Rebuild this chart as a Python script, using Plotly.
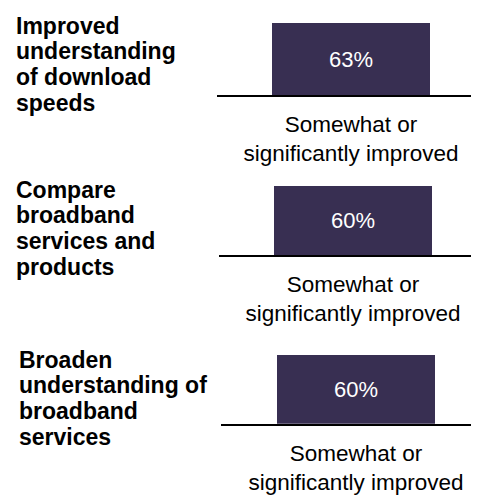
import plotly.graph_objects as go

# ---- data ----
statement_lines = [
    ["Improved", "understanding", "of download", "speeds"],
    ["Compare", "broadband", "services and", "products"],
    ["Broaden", "understanding of", "broadband", "services"],
]
categories = ["Somewhat or<br>significantly improved"]
values = [63, 60, 60]
value_labels = ["63%", "60%", "60%"]

# ---- layout constants (pixels, figure coordinates; page body adds an 8px margin) ----
W, H = 471, 487
BAR_COLOR = "#382F52"
FONT = "Liberation Sans, Arial, sans-serif"
panels = [  # axis-left x, baseline y, bar centre x, label left x, first label line centre y
    dict(left=209, base=88, cx=343, lx=6, ly=18),
    dict(left=211, base=250, cx=345, lx=6, ly=184),
    dict(left=213, base=421, cx=348, lx=9, ly=356),
]
Y_MAX = 70
PX_PER_UNIT = 1.15
BAR_PX = 158
LINE_H = 26

fig = go.Figure()
annotations = []
layout = {}
for i, (p, v, vl, lines) in enumerate(zip(panels, values, value_labels, statement_lines)):
    n = "" if i == 0 else str(i + 1)
    span_px = W - p["left"]
    frac = (p["cx"] - p["left"]) / span_px
    span = 0.5 / frac
    bw = BAR_PX / span_px * span
    top = p["base"] - Y_MAX * PX_PER_UNIT
    fig.add_trace(go.Bar(
        x=categories, y=[v], text=[vl], width=[bw],
        marker=dict(color=BAR_COLOR, line=dict(width=0)),
        textposition="inside", insidetextanchor="middle",
        textfont=dict(color="white", size=22, family=FONT),
        xaxis="x" + n, yaxis="y" + n, showlegend=False, hoverinfo="skip",
    ))
    layout["xaxis" + n] = dict(
        domain=[p["left"] / W, 1], anchor="y" + n, type="category",
        range=[-0.5, -0.5 + span], showline=True, linecolor="black", linewidth=1.5,
        ticks="", ticklabelstandoff=8, showgrid=False, zeroline=False, fixedrange=True,
        tickfont=dict(size=22.5, color="black", family=FONT),
    )
    layout["yaxis" + n] = dict(
        domain=[1 - p["base"] / H, 1 - top / H], anchor="x" + n,
        range=[0, Y_MAX], visible=False, fixedrange=True,
    )
    for j, line in enumerate(lines):
        ypx = p["ly"] + j * LINE_H
        annotations.append(dict(
            text="<b>%s</b>" % line, x=p["lx"] / W, y=1 - ypx / H,
            xref="paper", yref="paper", xanchor="left", yanchor="middle",
            showarrow=False, align="left",
            font=dict(size=23, color="black", family=FONT),
        ))

fig.update_layout(
    width=W, height=H, margin=dict(l=0, r=0, t=0, b=0),
    paper_bgcolor="white", plot_bgcolor="white", bargap=0,
    annotations=annotations, **layout,
)
fig.write_html("out.html")
